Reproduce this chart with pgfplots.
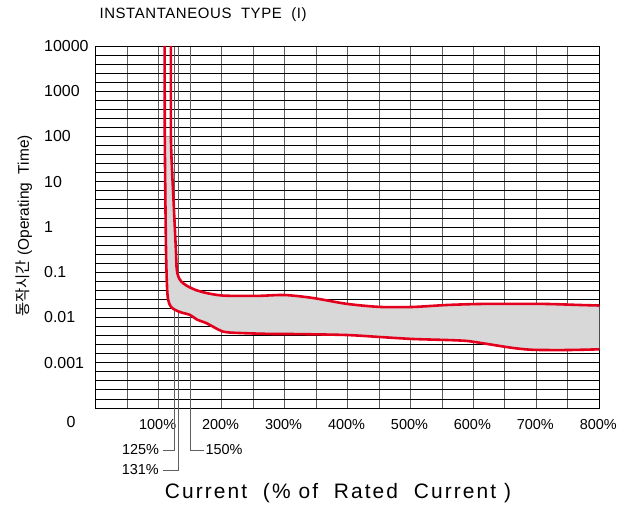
\documentclass[border=0pt]{standalone}
\usepackage{fontspec}
\setmainfont{Liberation Sans}
\newfontfamily\kr{Noto Sans CJK KR}
\usepackage{pgfplots}
\pgfplotsset{compat=1.18}
\usepgfplotslibrary{fillbetween}
\definecolor{cred}{RGB}{228,0,28}
\definecolor{cfill}{RGB}{216,216,216}
\definecolor{vgrid}{RGB}{95,95,95}
\begin{document}
\begin{tikzpicture}[x=1bp,y=1bp]
\begin{axis}[
  at={(95.7bp,102bp)}, anchor=south west,
  scale only axis, width=503.6bp, height=362bp,
  set layers,
  clip=false,
  xmin=0, xmax=800,
  ymode=log, ymin=1e-4, ymax=1e4,
  /pgf/number format/assume math mode=true,
  xtick={100,200,300,400,500,600,700,800},
  xticklabels={100\%,200\%,300\%,400\%,500\%,600\%,700\%,800\%},
  minor xtick={0,50,...,800},
  extra x ticks={125,131,150},
  extra x tick labels={},
  extra x tick style={grid=major},
  ytick={1e-3,1e-2,1e-1,1,10,100,1000,10000},
  yticklabels={0.001,0.01,0.1,1,10,100,1000,10000},
  minor ytick={1.5849e-4,2.5119e-4,3.9811e-4,6.3096e-4,
               1.5849e-3,2.5119e-3,3.9811e-3,6.3096e-3,
               1.5849e-2,2.5119e-2,3.9811e-2,6.3096e-2,
               1.5849e-1,2.5119e-1,3.9811e-1,6.3096e-1,
               1.5849,2.5119,3.9811,6.3096,
               15.849,25.119,39.811,63.096,
               158.49,251.19,398.11,630.96,
               1584.9,2511.9,3981.1,6309.6},
  grid=both,
  major tick length=0pt, minor tick length=0pt,
  major x grid style={vgrid, line width=0.8pt},
  minor x grid style={vgrid, line width=0.8pt},
  major y grid style={black, line width=0.8pt},
  minor y grid style={black, line width=0.8pt},
  axis line style={black, line width=0.9pt},
  xticklabel style={font=\fontsize{14.5}{15}\selectfont, yshift=-8bp, xshift=-1bp},
  yticklabel style={font=\fontsize{16}{16}\selectfont, anchor=west, inner sep=0pt, xshift=-51.7bp},
]
\addplot[name path=upper, cred, line width=2.6pt, smooth, tension=0.45] coordinates {
 (119.4,10000) (119.6,80) (123.6,3.95) (127.4,0.31) (128.6,0.12)
 (131,0.082) (136,0.062) (145,0.050) (158,0.041) (175,0.035) (202,0.0305)
 (256,0.0300) (300,0.0314) (345,0.0270) (399,0.0200) (452,0.0171)
 (504,0.0171) (558,0.0189) (610,0.0199) (663,0.0200) (717,0.0199)
 (769,0.0189) (800,0.0184)};
\addplot[name path=lower, cred, line width=2.6pt, smooth, tension=0.45] coordinates {
 (109.6,10000) (109.8,80) (111.7,0.31) (113.8,0.035) (117,0.020)
 (122,0.0160) (133.9,0.0132) (149.8,0.0114) (160.9,0.0090) (176.8,0.0074)
 (202,0.0049) (229,0.00454) (282,0.00432) (320,0.0043) (399,0.0041)
 (452,0.0037) (504,0.00335) (558,0.00318) (590,0.00303) (622,0.0026)
 (663,0.00212) (695,0.00193) (749,0.00191) (800,0.00198)};
\addplot[cfill, draw=none, on layer=axis background] fill between[of=upper and lower,
  soft clip={(axis cs:100,1e-4) rectangle (axis cs:800,100)}];
\draw[vgrid, line width=0.8pt] (axis cs:125,1e-4) -- ++(0pt,-42bp) -- ++(-11bp,0pt)
  node[anchor=east, inner sep=4bp, black, font=\fontsize{14.5}{15}\selectfont]{125\%};
\draw[vgrid, line width=0.8pt] (axis cs:131,1e-4) -- ++(0pt,-62bp) -- ++(-15bp,0pt)
  node[anchor=east, inner sep=4bp, black, font=\fontsize{14.5}{15}\selectfont]{131\%};
\draw[vgrid, line width=0.8pt] (axis cs:150,1e-4) -- ++(0pt,-42bp) -- ++(14bp,0pt)
  node[anchor=west, inner sep=1bp, black, font=\fontsize{14.5}{15}\selectfont]{150\%};
\end{axis}
\node[anchor=center, font=\fontsize{16}{16}\selectfont] at (71,88) {0};
\node[anchor=west, font=\fontsize{15}{15}\selectfont\addfontfeature{LetterSpace=4}] at (96,495) {INSTANTANEOUS\ \ TYPE\ \ (I)};
\node[anchor=center, font=\fontsize{21}{21}\selectfont\addfontfeature{LetterSpace=10}] at (338,17) {Current\ \ (\%\ of\ \ Rated\ \ Current\ )};
\node[anchor=center, rotate=90, font=\fontsize{15.5}{15.5}\selectfont] at (24,284) {{\kr 동작시간} (Operating\ \ Time)};
\pgfresetboundingbox
\useasboundingbox (0,0) rectangle (617,510);
\end{tikzpicture}
\end{document}
